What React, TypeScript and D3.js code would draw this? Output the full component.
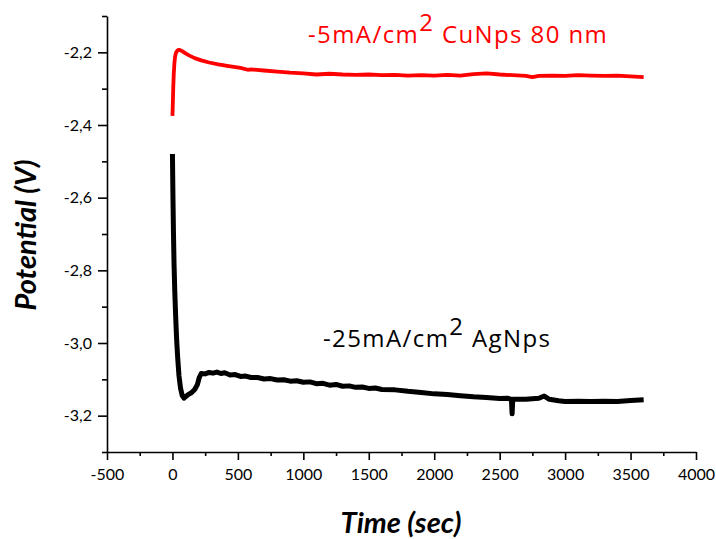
import React, { useEffect, useRef } from 'react';
import * as d3 from 'd3';

const width = 716;
const height = 539;
const margin = { top: 16, right: 20, bottom: 87, left: 107 };
const red = '#ff0000';
const black = '#000000';
const font = 'Lato, "Open Sans", sans-serif';
const noteFont = '"Open Sans", Lato, sans-serif';

// x / y ticks
const xMajor = [-500, 0, 500, 1000, 1500, 2000, 2500, 3000, 3500, 4000];
const xMinor = [-250, 250, 750, 1250, 1750, 2250, 2750, 3250, 3750];
const yMajor = [-3.2, -3.0, -2.8, -2.6, -2.4, -2.2];
const yMinor = [-3.3, -3.1, -2.9, -2.7, -2.5, -2.3, -2.1];

// -5mA/cm2 CuNps 80 nm
const cuTime = [0, 3, 6, 10, 15, 20, 28, 38, 50, 65, 80, 100, 130, 170, 220, 280, 350, 430, 520, 575, 600, 700, 800, 900,
  1000, 1100, 1200, 1300, 1400, 1500, 1600, 1700, 1800, 1900, 2000, 2100, 2200, 2300, 2400, 2500, 2600, 2700, 2750,
  2800, 2900, 3000, 3100, 3200, 3300, 3400, 3500, 3600];
const cuVolt = [-2.375, -2.34, -2.3, -2.26, -2.23, -2.212, -2.2, -2.195, -2.193, -2.195, -2.198, -2.203, -2.209, -2.216,
  -2.222, -2.228, -2.233, -2.238, -2.243, -2.248, -2.247, -2.25, -2.253, -2.256,
  -2.258, -2.261, -2.259, -2.261, -2.262, -2.261, -2.263, -2.262, -2.264, -2.263, -2.264, -2.262, -2.264, -2.26, -2.258,
  -2.261, -2.263, -2.265, -2.268, -2.265, -2.264, -2.265, -2.263, -2.264, -2.265, -2.264, -2.266, -2.268];

// -25mA/cm2 AgNps
const agTime = [0, 4, 8, 12, 18, 25, 32, 40, 50, 62, 75, 88, 100, 120, 145, 170, 190, 205, 220, 250, 280, 310, 340, 370,
  400, 440, 480, 520, 560, 600, 650, 700, 750, 800, 850, 900, 950, 1000, 1050, 1100, 1150, 1200, 1250, 1300, 1350,
  1400, 1450, 1500, 1550, 1600, 1700, 1800, 1900, 2000, 2100, 2200, 2300, 2400, 2500, 2560, 2590, 2595, 2600, 2700,
  2800, 2840, 2880, 2950, 3000, 3100, 3200, 3300, 3400, 3500, 3600];
const agVolt = [-2.48, -2.6, -2.7, -2.78, -2.86, -2.93, -2.99, -3.04, -3.09, -3.125, -3.145, -3.152, -3.148, -3.142,
  -3.137, -3.128, -3.115, -3.095, -3.084, -3.085, -3.081, -3.083, -3.08, -3.084, -3.082, -3.088, -3.087, -3.092, -3.091,
  -3.095, -3.095, -3.099, -3.098, -3.102, -3.101, -3.105, -3.104, -3.108, -3.107, -3.112, -3.111, -3.116, -3.114, -3.119,
  -3.118, -3.122, -3.121, -3.125, -3.124, -3.128, -3.129, -3.133, -3.136, -3.14, -3.142, -3.145, -3.148, -3.15, -3.153,
  -3.152, -3.155, -3.195, -3.155, -3.155, -3.152, -3.146, -3.155, -3.159, -3.161, -3.16, -3.161, -3.16, -3.161, -3.158,
  -3.156];

const xScale = d3.scaleLinear().domain([-500, 4000]).range([margin.left, width - margin.right]);
const yScale = d3.scaleLinear().domain([-3.3, -2.1]).range([height - margin.bottom, margin.top]);

const fmtY = (d: number) => d3.format('.1f')(d).replace('.', ',').replace('\u2212', '-');
const fmtX = (d: number) => d3.format('d')(d).replace('\u2212', '-');

function path(ts: number[], vs: number[]) {
  return d3.line<number>()
    .x((t) => xScale(t))
    .y((_, i) => yScale(vs[i]))(ts) || '';
}

export default function App() {
  const xAxisRef = useRef<SVGGElement>(null);
  const yAxisRef = useRef<SVGGElement>(null);

  useEffect(() => {
    const gx = d3.select(xAxisRef.current!);
    gx.selectAll('*').remove();
    const gxMinor = gx.append('g');
    const gxMajor = gx.append('g');
    gxMinor.call(d3.axisBottom(xScale).tickValues(xMinor).tickSize(4).tickFormat(() => ''));
    gxMajor.call(d3.axisBottom(xScale).tickValues(xMajor).tickSize(8).tickSizeOuter(0).tickPadding(9)
      .tickFormat((d) => fmtX(d as number)));
    gxMinor.select('.domain').remove();

    const gy = d3.select(yAxisRef.current!);
    gy.selectAll('*').remove();
    const gyMinor = gy.append('g');
    const gyMajor = gy.append('g');
    gyMinor.call(d3.axisLeft(yScale).tickValues(yMinor).tickSize(5).tickFormat(() => ''));
    gyMajor.call(d3.axisLeft(yScale).tickValues(yMajor).tickSize(9).tickSizeOuter(0).tickPadding(6)
      .tickFormat((d) => fmtY(d as number)));
    gyMinor.select('.domain').remove();

    [gx, gy].forEach((g) => {
      g.selectAll('path, line').attr('stroke', black).attr('stroke-width', 1.6);
      g.selectAll('text').attr('font-family', font).attr('font-size', 16).attr('fill', black);
    });
  }, []);

  return (
    <svg width={width} height={height} style={{ position: 'absolute', left: 0, top: 0, background: '#fff' }}>
      <path d={path(cuTime, cuVolt)} fill="none" stroke={red} strokeWidth={3.8} strokeLinejoin="round" />
      <path d={path(agTime, agVolt)} fill="none" stroke={black} strokeWidth={5} strokeLinejoin="round" />
      <g ref={xAxisRef} transform={`translate(0, ${height - margin.bottom})`} />
      <g ref={yAxisRef} transform={`translate(${margin.left}, 0)`} />

      <text x={308} y={43} fill={red} fontFamily={noteFont} fontSize={24} letterSpacing={1.4}>
        -5mA/cm<tspan dy={-12}>2</tspan><tspan dy={12}> CuNps 80 nm</tspan>
      </text>
      <text x={323} y={347} fill={black} fontFamily={noteFont} fontSize={24} letterSpacing={1.4}>
        -25mA/cm<tspan dy={-12}>2</tspan><tspan dy={12}> AgNps</tspan>
      </text>

      <text x={401} y={533} textAnchor="middle" fontFamily={font} fontSize={29} fontWeight="bold"
        fontStyle="italic">Time (sec)</text>
      <text transform="translate(36, 235) rotate(-90)" textAnchor="middle" fontFamily={font} fontSize={29}
        fontWeight="bold" fontStyle="italic">Potential (V)</text>
    </svg>
  );
}
